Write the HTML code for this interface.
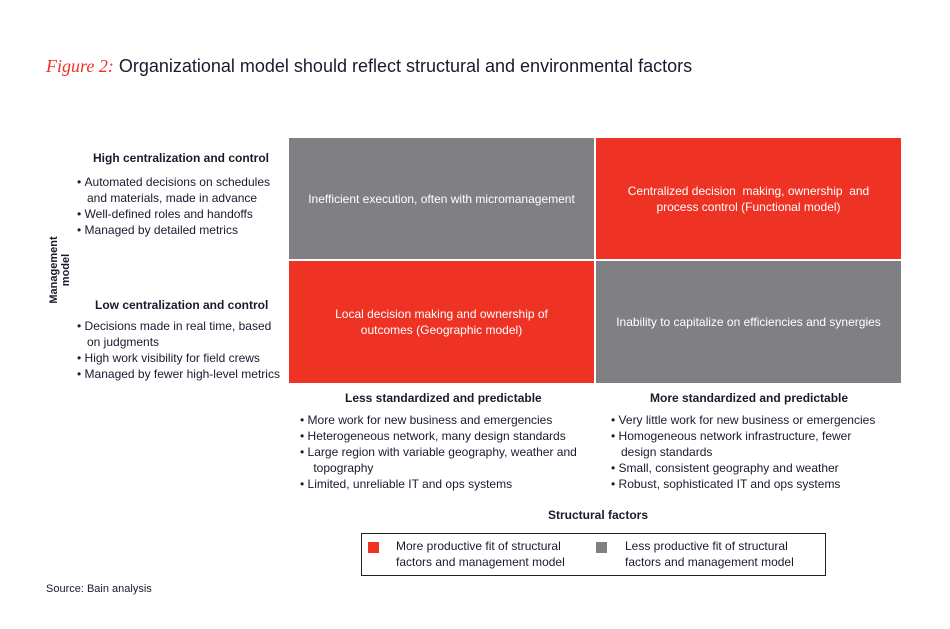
<!DOCTYPE html>
<html><head><meta charset="utf-8"><style>
body{margin:0;width:950px;height:629px;background:#fff;position:relative;font-family:"Liberation Sans",sans-serif;color:#1a1a2e;overflow:hidden}
.a{position:absolute}
.t{font-size:12px;line-height:16px}
.h{font-size:12px;font-weight:bold;line-height:16px}
ul{margin:0;padding:0;list-style:none}
li{padding-left:10px;text-indent:-10px}
li:before{content:"\2022\00a0";}
.cell{position:absolute;display:flex;align-items:center;justify-content:center;text-align:center;color:#fff;font-size:12px;line-height:16px}
.red{background:#ee3224}.gray{background:#808084}
</style></head><body>
<div class="a" style="left:46px;top:56px;font-size:18px;white-space:nowrap"><span style="color:#ee3224;font-family:'Liberation Serif',serif;font-style:italic">Figure 2:</span> Organizational model should reflect structural and environmental factors</div>

<div class="a" style="left:20px;top:258px;width:80px;text-align:center;transform:rotate(-90deg);font-size:11px;font-weight:bold">Management model</div>

<div class="a h" style="left:93px;top:150px">High centralization and control</div>
<ul class="a t" style="left:77px;top:174px;width:210px">
<li>Automated decisions on schedules and materials, made in advance</li><li>Well-defined roles and handoffs</li><li>Managed by detailed metrics</li></ul>

<div class="a h" style="left:95px;top:297px">Low centralization and control</div>
<ul class="a t" style="left:77px;top:318px;width:210px">
<li>Decisions made in real time, based on judgments</li><li>High work visibility for field crews</li><li>Managed by fewer high-level metrics</li></ul>

<div class="cell gray" style="left:289px;top:138px;width:305px;height:121px">Inefficient execution, often with micromanagement</div>
<div class="cell red" style="left:596px;top:138px;width:305px;height:121px;padding:0 10px;box-sizing:border-box">Centralized decision &nbsp;making, ownership &nbsp;and process control (Functional model)</div>
<div class="cell red" style="left:289px;top:261px;width:305px;height:122px;padding:0 30px;box-sizing:border-box">Local decision making and ownership of outcomes (Geographic model)</div>
<div class="cell gray" style="left:596px;top:261px;width:305px;height:122px">Inability to capitalize on efficiencies and synergies</div>

<div class="a h" style="left:345px;top:390px">Less standardized and predictable</div>
<ul class="a t" style="left:300px;top:412px;width:290px">
<li>More work for new business and emergencies</li><li>Heterogeneous network, many design standards</li><li>Large region with variable geography, weather and &nbsp;topography</li><li>Limited, unreliable IT and ops systems</li></ul>

<div class="a h" style="left:650px;top:390px">More standardized and predictable</div>
<ul class="a t" style="left:611px;top:412px;width:270px">
<li>Very little work for new business or emergencies</li><li>Homogeneous network infrastructure, fewer design standards</li><li>Small, consistent geography and weather</li><li>Robust, sophisticated IT and ops systems</li></ul>

<div class="a h" style="left:548px;top:507px">Structural factors</div>

<div class="a" style="left:361px;top:533px;width:463px;height:41px;border:1px solid #222">
<div class="a red" style="left:6px;top:8px;width:11px;height:11px"></div>
<div class="a t" style="left:34px;top:4px;width:200px">More productive fit of structural factors and management model</div>
<div class="a gray" style="left:234px;top:8px;width:11px;height:11px"></div>
<div class="a t" style="left:263px;top:4px;width:200px">Less productive fit of structural factors and management model</div>
</div>

<div class="a" style="left:46px;top:583px;font-size:11px">Source: Bain analysis</div>
</body></html>
